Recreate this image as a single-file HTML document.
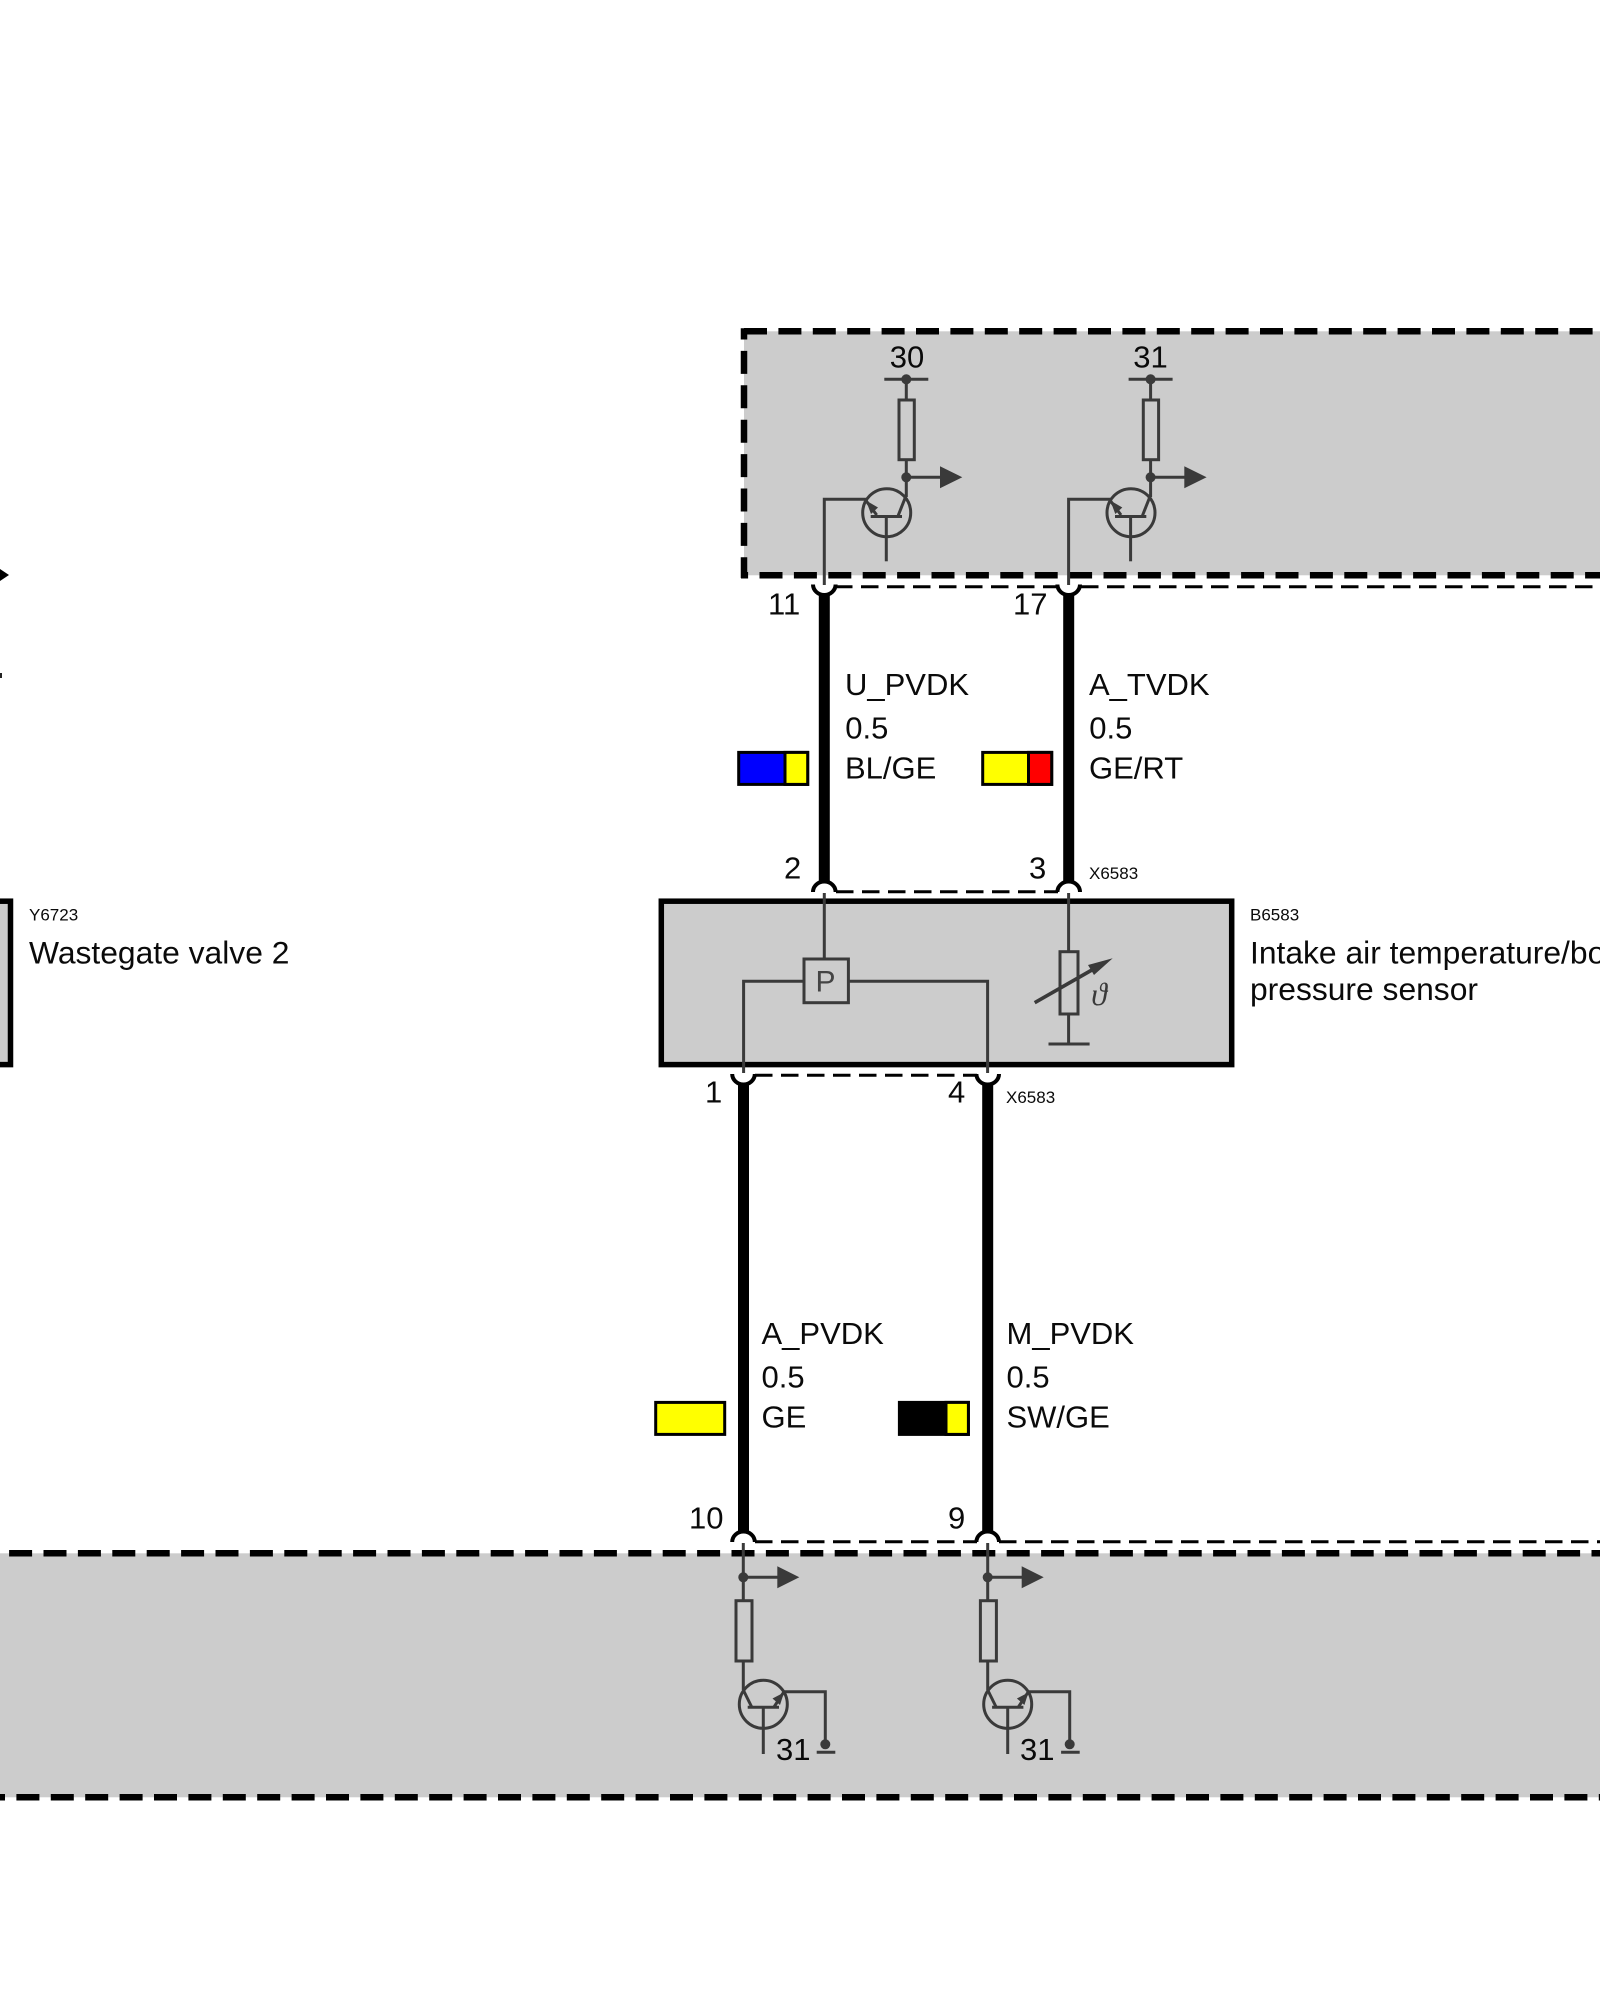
<!DOCTYPE html>
<html>
<head>
<meta charset="utf-8">
<style>
html,body{margin:0;padding:0;background:#fff;width:1600px;height:2000px;overflow:hidden}
svg{display:block}
text{font-family:"Liberation Sans",sans-serif;fill:#0a0a0a}
.t{font-size:31px}
.s{font-size:17px}
.n{font-size:31.8px}
.c{fill:none;stroke:#3a3a3a;stroke-width:3}
.d{fill:#3a3a3a;stroke:none}
.w{stroke:#000;stroke-width:11;fill:none}
.a{stroke:#000;stroke-width:4;fill:none}
.h{stroke:#000;stroke-width:3;stroke-dasharray:17.5 8.5;fill:none}
.b{stroke:#000;stroke-width:6.5;stroke-dasharray:23 11.4;fill:none}
.sw{stroke:#000;stroke-width:3}
</style>
</head>
<body>
<svg width="1600" height="2000" viewBox="0 0 1600 2000" xmlns="http://www.w3.org/2000/svg">
<rect width="1600" height="2000" fill="#fff"/>

<!-- top dashed box -->
<rect x="744" y="331.3" width="856" height="244" fill="#cccccc"/>
<line class="b" x1="744" y1="331.3" x2="1600" y2="331.3"/>
<line class="b" x1="744" y1="328.3" x2="744" y2="578" stroke-dashoffset="11.8"/>
<line class="b" x1="741" y1="575.3" x2="1600" y2="575.3" stroke-dashoffset="15.9"/>

<!-- bottom dashed box -->
<rect x="0" y="1553.3" width="1600" height="244" fill="#cccccc"/>
<line class="b" x1="0" y1="1553.3" x2="1600" y2="1553.3" stroke-dashoffset="25.3"/>
<line class="b" x1="0" y1="1797.3" x2="1600" y2="1797.3" stroke-dashoffset="18"/>

<!-- components boxes -->
<rect x="661.3" y="901.2" width="570.4" height="163.4" fill="#cccccc" stroke="#000" stroke-width="5.5"/>
<rect x="-20" y="901.2" width="30.5" height="163.4" fill="#cccccc" stroke="#000" stroke-width="5.5"/>

<!-- top circuit 1 -->
<g>
<line class="c" x1="884.3" y1="379.3" x2="928.3" y2="379.3"/>
<line class="c" x1="906.3" y1="379.3" x2="906.3" y2="400"/>
<rect class="c" x="899" y="400" width="15.3" height="59.7"/>
<line class="c" x1="906.3" y1="459.7" x2="906.3" y2="497"/>
<circle class="d" cx="906.3" cy="379.3" r="5"/>
<circle class="d" cx="906.3" cy="477.3" r="5"/>
<line class="c" x1="906.3" y1="477.3" x2="941" y2="477.3"/>
<polygon class="d" points="940,466.3 962.3,477.3 940,488.3"/>
<circle class="c" cx="886.7" cy="512.7" r="24"/>
<line class="c" x1="906.3" y1="495" x2="898" y2="516"/>
<line class="c" x1="870.7" y1="516.5" x2="902" y2="516.5"/>
<line class="c" x1="886.3" y1="516.5" x2="886.3" y2="561.3"/>
<polyline class="c" points="876.7,515 865,499.3 824.3,499.3 824.3,585"/>
<polygon class="d" points="866,500.5 878,507.5 871,514"/>
</g>
<!-- top circuit 2 -->
<g transform="translate(244.3 0)">
<line class="c" x1="884.3" y1="379.3" x2="928.3" y2="379.3"/>
<line class="c" x1="906.3" y1="379.3" x2="906.3" y2="400"/>
<rect class="c" x="899" y="400" width="15.3" height="59.7"/>
<line class="c" x1="906.3" y1="459.7" x2="906.3" y2="497"/>
<circle class="d" cx="906.3" cy="379.3" r="5"/>
<circle class="d" cx="906.3" cy="477.3" r="5"/>
<line class="c" x1="906.3" y1="477.3" x2="941" y2="477.3"/>
<polygon class="d" points="940,466.3 962.3,477.3 940,488.3"/>
<circle class="c" cx="886.7" cy="512.7" r="24"/>
<line class="c" x1="906.3" y1="495" x2="898" y2="516"/>
<line class="c" x1="870.7" y1="516.5" x2="902" y2="516.5"/>
<line class="c" x1="886.3" y1="516.5" x2="886.3" y2="561.3"/>
<polyline class="c" points="876.7,515 865,499.3 824.3,499.3 824.3,585"/>
<polygon class="d" points="866,500.5 878,507.5 871,514"/>
</g>

<!-- sensor internals -->
<line class="c" x1="824.3" y1="893" x2="824.3" y2="959"/>
<rect class="c" x="804" y="959" width="44.4" height="43.7"/>
<polyline class="c" points="804,981.3 743.6,981.3 743.6,1073"/>
<polyline class="c" points="848.4,981.3 987.6,981.3 987.6,1073"/>
<text x="825.5" y="991.7" text-anchor="middle" font-size="30" style="fill:#444">P</text>
<line class="c" x1="1068.6" y1="893" x2="1068.6" y2="951.7"/>
<rect class="c" x="1060" y="951.7" width="18" height="62.3"/>
<line class="c" x1="1068.6" y1="1014" x2="1068.6" y2="1044"/>
<line class="c" x1="1048.5" y1="1044" x2="1089.6" y2="1044"/>
<line stroke="#3a3a3a" stroke-width="3.6" x1="1034.7" y1="1002.7" x2="1098" y2="966.5"/>
<polygon class="d" points="1112.7,958.3 1094,975 1088,965"/>
<text x="1099" y="1005" text-anchor="middle" font-size="32" style="font-family:'Liberation Serif',serif;font-style:italic;fill:#3a3a3a">ϑ</text>

<!-- bottom circuit 1 -->
<g>
<line class="c" x1="743.3" y1="1543" x2="743.3" y2="1600.7"/>
<circle class="d" cx="743.3" cy="1577.3" r="5"/>
<line class="c" x1="743.3" y1="1577.3" x2="778" y2="1577.3"/>
<polygon class="d" points="777.3,1566.3 799.3,1577.3 777.3,1588.3"/>
<rect class="c" x="736" y="1600.7" width="16" height="60.3"/>
<line class="c" x1="743.3" y1="1661" x2="743.3" y2="1690"/>
<line class="c" x1="743.3" y1="1690" x2="751.7" y2="1707"/>
<circle class="c" cx="763.3" cy="1704.3" r="24"/>
<line class="c" x1="747.7" y1="1707.3" x2="779" y2="1707.3"/>
<line class="c" x1="763.3" y1="1707.3" x2="763.3" y2="1754"/>
<polyline class="c" points="774,1707 784,1691.7 825.3,1691.7 825.3,1744"/>
<polygon class="d" points="784,1692.5 780,1705 772.5,1698.5"/>
<circle class="d" cx="825.3" cy="1744.3" r="5"/>
<line class="c" x1="816.7" y1="1752.3" x2="835.3" y2="1752.3"/>
</g>
<!-- bottom circuit 2 -->
<g transform="translate(244.4 0)">
<line class="c" x1="743.3" y1="1543" x2="743.3" y2="1600.7"/>
<circle class="d" cx="743.3" cy="1577.3" r="5"/>
<line class="c" x1="743.3" y1="1577.3" x2="778" y2="1577.3"/>
<polygon class="d" points="777.3,1566.3 799.3,1577.3 777.3,1588.3"/>
<rect class="c" x="736" y="1600.7" width="16" height="60.3"/>
<line class="c" x1="743.3" y1="1661" x2="743.3" y2="1690"/>
<line class="c" x1="743.3" y1="1690" x2="751.7" y2="1707"/>
<circle class="c" cx="763.3" cy="1704.3" r="24"/>
<line class="c" x1="747.7" y1="1707.3" x2="779" y2="1707.3"/>
<line class="c" x1="763.3" y1="1707.3" x2="763.3" y2="1754"/>
<polyline class="c" points="774,1707 784,1691.7 825.3,1691.7 825.3,1744"/>
<polygon class="d" points="784,1692.5 780,1705 772.5,1698.5"/>
<circle class="d" cx="825.3" cy="1744.3" r="5"/>
<line class="c" x1="816.7" y1="1752.3" x2="835.3" y2="1752.3"/>
</g>

<!-- thick wires -->
<line class="w" x1="824.3" y1="594" x2="824.3" y2="882"/>
<line class="w" x1="1068.7" y1="594" x2="1068.7" y2="882"/>
<line class="w" x1="743.5" y1="1084" x2="743.5" y2="1533"/>
<line class="w" x1="987.7" y1="1084" x2="987.7" y2="1533"/>

<!-- connector arcs -->
<path class="a" d="M813,584.5 A11.3,10.5 0 0 0 835.6,584.5"/>
<path class="a" d="M1057.4,584.5 A11.3,10.5 0 0 0 1080,584.5"/>
<path class="a" d="M813,892 A11.3,10.5 0 0 1 835.6,892"/>
<path class="a" d="M1057.4,892 A11.3,10.5 0 0 1 1080,892"/>
<path class="a" d="M732.2,1074 A11.3,10.5 0 0 0 754.8,1074"/>
<path class="a" d="M976.4,1074 A11.3,10.5 0 0 0 999,1074"/>
<path class="a" d="M732.2,1542 A11.3,10.5 0 0 1 754.8,1542"/>
<path class="a" d="M976.4,1542 A11.3,10.5 0 0 1 999,1542"/>

<!-- thin dashed connector lines -->
<line class="h" x1="835" y1="586.7" x2="1056" y2="586.7"/>
<line class="h" x1="1081" y1="586.7" x2="1600" y2="586.7"/>
<line class="h" x1="836" y1="891.7" x2="1058" y2="891.7"/>
<line class="h" x1="755" y1="1075.3" x2="977" y2="1075.3"/>
<line class="h" x1="755" y1="1541.7" x2="977" y2="1541.7"/>
<line class="h" x1="999" y1="1541.7" x2="1600" y2="1541.7"/>

<!-- colour swatches -->
<rect class="sw" x="738.7" y="752.4" width="69" height="32" fill="#0000ff"/>
<rect x="785" y="752.4" width="22.7" height="32" fill="#ffff00" class="sw"/>
<rect class="sw" x="982.7" y="752.4" width="69" height="32" fill="#ffff00"/>
<rect x="1028.5" y="752.4" width="23.2" height="32" fill="#ff0000" class="sw"/>
<rect class="sw" x="655.7" y="1402.4" width="69" height="32" fill="#ffff00"/>
<rect class="sw" x="899.4" y="1402.4" width="69" height="32" fill="#000"/>
<rect x="946" y="1402.4" width="22.4" height="32" fill="#ffff00" class="sw"/>

<!-- left edge fragments -->
<polygon points="0,569 9,575 0,581" fill="#000"/>
<rect x="0" y="673" width="2" height="5" fill="#222"/>

<!-- text labels -->
<text class="t" x="907" y="367.7" text-anchor="middle">30</text>
<text class="t" x="1150.5" y="367.7" text-anchor="middle">31</text>
<text class="t" x="768" y="614.3">11</text>
<text class="t" x="1013" y="614.3">17</text>
<text class="t" x="845" y="695">U_PVDK</text>
<text class="t" x="845.3" y="738.3">0.5</text>
<text class="t" x="845" y="778.3">BL/GE</text>
<text class="t" x="1089" y="695">A_TVDK</text>
<text class="t" x="1089.3" y="738.3">0.5</text>
<text class="t" x="1089" y="778.3">GE/RT</text>
<text class="t" x="784" y="878.3">2</text>
<text class="t" x="1029" y="878.3">3</text>
<text class="s" x="1089" y="879">X6583</text>
<text class="t" x="705" y="1102.5">1</text>
<text class="t" x="948" y="1102.5">4</text>
<text class="s" x="1006" y="1103">X6583</text>
<text class="t" x="761.5" y="1344">A_PVDK</text>
<text class="t" x="761.5" y="1387.5">0.5</text>
<text class="t" x="761.5" y="1427.5">GE</text>
<text class="t" x="1006.5" y="1344">M_PVDK</text>
<text class="t" x="1006.5" y="1387.5">0.5</text>
<text class="t" x="1006.5" y="1427.5">SW/GE</text>
<text class="t" x="689" y="1528.3">10</text>
<text class="t" x="948" y="1528.3">9</text>
<text class="t" x="776" y="1760">31</text>
<text class="t" x="1020" y="1760">31</text>
<text class="s" x="1250" y="920.3">B6583</text>
<text class="n" x="1250" y="963.3">Intake air temperature/boost</text>
<text class="n" x="1250" y="1000">pressure sensor</text>
<text class="s" x="29" y="920.3">Y6723</text>
<text class="n" x="29" y="963.3">Wastegate valve 2</text>
</svg>
</body>
</html>
